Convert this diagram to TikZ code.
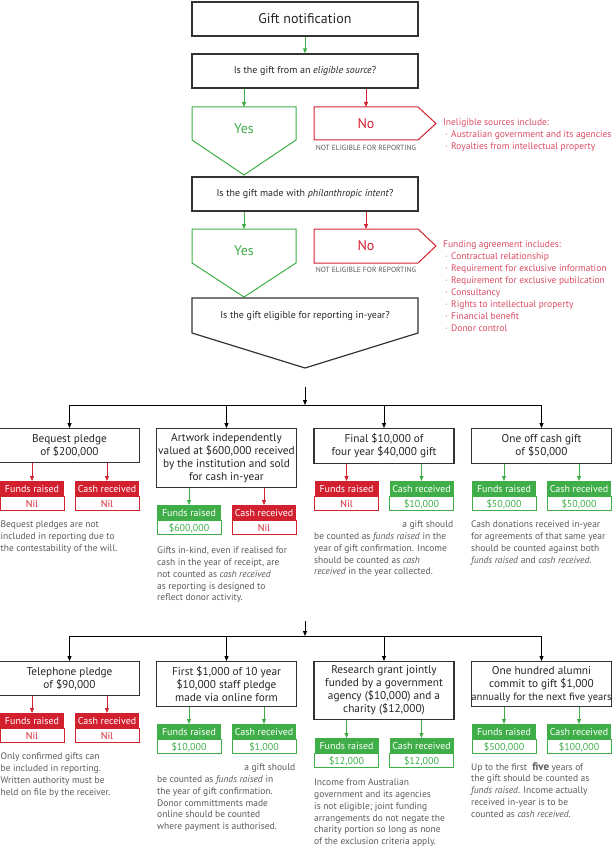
\documentclass[tikz,border=0pt]{standalone}
\usepackage{fontspec}
\setmainfont{PT Sans}
\usetikzlibrary{arrows.meta,calc}
\definecolor{gr}{HTML}{3FAE49}
\definecolor{rd}{HTML}{D2202F}
\definecolor{pk}{HTML}{DA4B63}
\definecolor{tx}{HTML}{5A5A5A}
\definecolor{bx}{HTML}{333333}
\newcommand{\lbul}{\hspace*{2pt}·\hspace{3.5pt}}
\begin{document}
\begin{tikzpicture}[x=1pt,y=-1pt,
  mainbox/.style={draw=bx,line width=1.2pt,minimum width=226pt,minimum height=34pt,inner sep=0pt,text=black!85,font=\fontsize{10}{12}\selectfont},
  casebox/.style={draw=bx,line width=1.2pt,minimum width=140pt,inner sep=0pt,anchor=north,align=center,font=\fontsize{11.3}{13}\selectfont,text=black!85},
  hd/.style={fill=#1,text=white,minimum width=64pt,minimum height=15pt,inner sep=0pt,anchor=north,font=\fontsize{10}{10}\selectfont},
  val/.style={draw=#1,line width=0.9pt,text=#1,minimum width=64pt,minimum height=14pt,inner sep=0pt,anchor=north,font=\fontsize{10}{10}\selectfont},
  desc/.style={anchor=north west,inner sep=0pt,align=left,text=tx,font=\fontsize{9.5}{11.8}\selectfont},
  lst/.style={anchor=north west,inner sep=0pt,align=left,text=pk,font=\fontsize{9.5}{12}\selectfont},
  arr/.style={-{Triangle[length=5pt,width=4pt]},line width=0.8pt},
  yesno/.style={font=\fontsize{14}{16}\selectfont,inner sep=0pt},
  notel/.style={font=\fontsize{7.5}{8}\selectfont,text=tx,inner sep=0pt},
]
\useasboundingbox (0,0) rectangle (613,850);

% ---- top decision chain
\node[mainbox,font=\fontsize{14}{16}\selectfont] (gn) at (305,19) {Gift notification};
\node[mainbox] (q1) at (305,71) {Is the gift from an \textit{eligible source}?};
\draw[arr,gr] (gn.south) -- (q1.north);

\coordinate (y1top) at (244,107);
\coordinate (n1top) at (366,107);
\draw[gr,line width=1pt] (192,107)--(296,107)--(296,140)--(244,175)--(192,140)--cycle;
\draw[rd,line width=1pt] (314,107)--(418,107)--(436,123.5)--(418,140)--(314,140)--cycle;
\node[yesno,text=gr] (yes1) at (244,129) {Yes};
\node[yesno,text=rd] (no1) at (366,123.5) {No};
\node[notel] (ne1) at (366,147.5) {NOT ELIGIBLE FOR REPORTING};
\draw[arr,gr] (q1.south -| y1top) -- (y1top);
\draw[arr,rd] (q1.south -| n1top) -- (n1top);
\node[lst] (l1) at (443,118.5) {Ineligible sources include:\\
\lbul Australian government and its agencies\\
\lbul Royalties from intellectual property};

\node[mainbox] (q2) at (305,194) {Is the gift made with \textit{philanthropic intent}?};

\coordinate (y2top) at (244,229);
\coordinate (n2top) at (366,229);
\draw[gr,line width=1pt] (192,229)--(296,229)--(296,263)--(244,297)--(192,263)--cycle;
\draw[rd,line width=1pt] (314,229)--(418,229)--(436,246)--(418,263)--(314,263)--cycle;
\node[yesno,text=gr] (yes2) at (244,251) {Yes};
\node[yesno,text=rd] (no2) at (366,246) {No};
\node[notel] (ne2) at (366,270) {NOT ELIGIBLE FOR REPORTING};
\draw[arr,gr] (q2.south -| y2top) -- (y2top);
\draw[arr,rd] (q2.south -| n2top) -- (n2top);
\node[lst] (l2) at (443,240.5) {Funding agreement includes:\\
\lbul Contractual relationship\\
\lbul Requirement for exclusive information\\
\lbul Requirement for exclusive pubilcation\\
\lbul Consultancy\\
\lbul Rights to intellectual property\\
\lbul Financial benefit\\
\lbul Donor control};

\draw[bx,line width=1.2pt] (192,298)--(418,298)--(418,333)--(305,368)--(192,333)--cycle;
\node[font=\fontsize{10}{12}\selectfont,text=black!85,inner sep=0pt] (q3) at (305,316) {Is the gift eligible for reporting in-year?};

% ---- first row of cases
\coordinate (t1s) at (305,387);
\coordinate (h1) at (305,405);
\draw[arr] (t1s) -- (h1);

\node[casebox,minimum height=34pt] (b1) at (69.5,428) {Bequest pledge\\of \$200,000};
\node[casebox,minimum height=59pt] (b2) at (226.5,428) {Artwork independently\\valued at \$600,000 received\\by the institution and sold\\for cash in-year};
\node[casebox,minimum height=35pt] (b3) at (384,428) {Final \$10,000 of\\four year \$40,000 gift};
\node[casebox,minimum height=35pt] (b4) at (541.5,428) {One off cash gift\\of \$50,000};
\draw[line width=0.8pt] (h1 -| b1.north) -- (h1 -| b4.north);
\foreach \b in {b1,b2,b3,b4} \draw[arr] (h1 -| \b.north) -- (\b.north);

\node[hd=rd] (b1f) at (32,481) {Funds raised};
\node[val=rd] (b1fv) at (b1f.south) {Nil};
\node[hd=rd] (b1c) at (107,481) {Cash received};
\node[val=rd] (b1cv) at (b1c.south) {Nil};
\draw[arr,rd] (b1.south -| b1f) -- (b1f.north);
\draw[arr,rd] (b1.south -| b1c) -- (b1c.north);

\node[hd=gr] (b2f) at (189,505) {Funds raised};
\node[val=gr] (b2fv) at (b2f.south) {\$600,000};
\node[hd=rd] (b2c) at (264,505) {Cash received};
\node[val=rd] (b2cv) at (b2c.south) {Nil};
\draw[arr,gr] (b2.south -| b2f) -- (b2f.north);
\draw[arr,rd] (b2.south -| b2c) -- (b2c.north);

\node[hd=rd] (b3f) at (346.5,481) {Funds raised};
\node[val=rd] (b3fv) at (b3f.south) {Nil};
\node[hd=gr] (b3c) at (421.5,481) {Cash received};
\node[val=gr] (b3cv) at (b3c.south) {\$10,000};
\draw[arr,rd] (b3.south -| b3f) -- (b3f.north);
\draw[arr,gr] (b3.south -| b3c) -- (b3c.north);

\node[hd=gr] (b4f) at (504,481) {Funds raised};
\node[val=gr] (b4fv) at (b4f.south) {\$50,000};
\node[hd=gr] (b4c) at (579,481) {Cash received};
\node[val=gr] (b4cv) at (b4c.south) {\$50,000};
\draw[arr,gr] (b4.south -| b4f) -- (b4f.north);
\draw[arr,gr] (b4.south -| b4c) -- (b4c.north);

\node[desc] (d1) at (0.5,520.7) {Bequest pledges are not\\included in reporting due to\\the contestability of the will.};
\node[desc] (d2) at (157,546.7) {Gifts in-kind, even if realised for\\cash in the year of receipt, are\\not counted as \textit{cash received}\\as reporting is designed to\\reflect donor activity.};
\node[desc] (d3) at (314,520.7) {\makebox[139pt][r]{a gift should}\\be counted as \textit{funds raised} in the\\year of gift confirmation. Income\\should be counted as \textit{cash}\\\textit{received} in the year collected.};
\node[desc] (d4) at (471,520.7) {Cash donations received in-year\\for agreements of that same year\\should be counted against both\\\textit{funds raised} and \textit{cash received}.};

% ---- second row of cases
\coordinate (t2s) at (305,621);
\coordinate (h2) at (305,636);
\draw[arr] (t2s) -- (h2);

\node[casebox,minimum height=34pt] (c1) at (69.5,661) {Telephone pledge\\of \$90,000};
\node[casebox,minimum height=45pt] (c2) at (226.5,661) {First \$1,000 of 10 year\\\$10,000 staff pledge\\made via online form};
\node[casebox,minimum height=58pt] (c3) at (384,661) {Research grant jointly\\funded by a government\\agency (\$10,000) and a\\charity (\$12,000)};
\node[casebox,minimum height=45pt] (c4) at (541.5,661) {One hundred alumni\\commit to gift \$1,000\\\makebox[130pt][c]{\fontsize{10.6}{13}\selectfont annually for the next five years}};
\draw[line width=0.8pt] (h2 -| c1.north) -- (h2 -| c4.north);
\foreach \b in {c1,c2,c3,c4} \draw[arr] (h2 -| \b.north) -- (\b.north);

\node[hd=rd] (c1f) at (32,713) {Funds raised};
\node[val=rd] (c1fv) at (c1f.south) {Nil};
\node[hd=rd] (c1c) at (107,713) {Cash received};
\node[val=rd] (c1cv) at (c1c.south) {Nil};
\draw[arr,rd] (c1.south -| c1f) -- (c1f.north);
\draw[arr,rd] (c1.south -| c1c) -- (c1c.north);

\node[hd=gr] (c2f) at (189,724) {Funds raised};
\node[val=gr] (c2fv) at (c2f.south) {\$10,000};
\node[hd=gr] (c2c) at (264,724) {Cash received};
\node[val=gr] (c2cv) at (c2c.south) {\$1,000};
\draw[arr,gr] (c2.south -| c2f) -- (c2f.north);
\draw[arr,gr] (c2.south -| c2c) -- (c2c.north);

\node[hd=gr] (c3f) at (346.5,738) {Funds raised};
\node[val=gr] (c3fv) at (c3f.south) {\$12,000};
\node[hd=gr] (c3c) at (421.5,738) {Cash received};
\node[val=gr] (c3cv) at (c3c.south) {\$12,000};
\draw[arr,gr] (c3.south -| c3f) -- (c3f.north);
\draw[arr,gr] (c3.south -| c3c) -- (c3c.north);

\node[hd=gr] (c4f) at (504,724) {Funds raised};
\node[val=gr] (c4fv) at (c4f.south) {\$500,000};
\node[hd=gr] (c4c) at (579,724) {Cash received};
\node[val=gr] (c4cv) at (c4c.south) {\$100,000};
\draw[arr,gr] (c4.south -| c4f) -- (c4f.north);
\draw[arr,gr] (c4.south -| c4c) -- (c4c.north);

\node[desc] (e1) at (0.5,752.7) {Only confirmed gifts can\\be included in reporting.\\Written authority must be\\held on file by the receiver.};
\node[desc] (e2) at (157,763.7) {\makebox[138pt][r]{a gift should}\\be counted as \textit{funds raised} in\\the year of gift confirmation.\\Donor committments made\\online should be counted\\where payment is authorised.};
\node[desc] (e3) at (314,778.7) {Income from Australian\\government and its agencies\\is not eligible; joint funding\\arrangements do not negate the\\charity portion so long as none\\of the exclusion criteria apply.};
\node[desc] (e4) at (471,762) {Up to the first \ {\fontsize{11}{11.8}\selectfont\textbf{five}} years of\\the gift should be counted as\\\textit{funds raised}. Income actually\\received in-year is to be\\counted as \textit{cash received}.};
\end{tikzpicture}
\end{document}
